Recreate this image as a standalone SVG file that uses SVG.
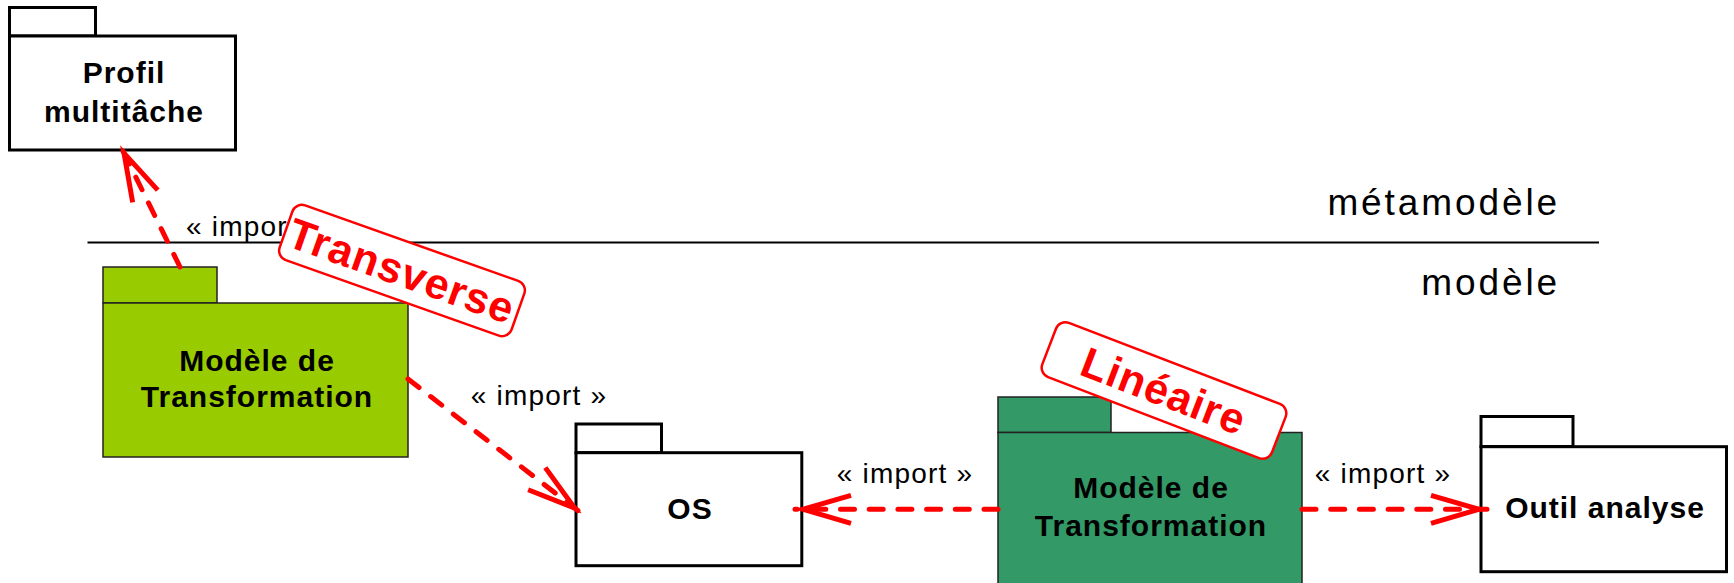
<svg xmlns="http://www.w3.org/2000/svg" width="1734" height="583" viewBox="0 0 1734 583">
<style>
.pkg{fill:#fff;stroke:#000;stroke-width:3}
.g1{fill:#99CC00;stroke:#222;stroke-width:1.5}
.g2{fill:#339966;stroke:#222;stroke-width:1.5}
.name{font-family:"Liberation Sans",Arial,sans-serif;font-weight:bold;font-size:30px;letter-spacing:1px;fill:#000;text-anchor:middle}
.lbl{font-family:"Liberation Sans",Arial,sans-serif;font-size:28px;letter-spacing:1.2px;fill:#000}
.layer{font-family:"Liberation Sans",Arial,sans-serif;font-size:37px;letter-spacing:2.9px;fill:#000;text-anchor:end}
.dep{fill:none;stroke:#FF0000;stroke-width:5;stroke-dasharray:14 14.7;stroke-linecap:round}
.stamp rect{fill:#fff;stroke:#FF0000;stroke-width:2.5}
.stamp text{font-family:"Liberation Sans",Arial,sans-serif;font-weight:bold;font-size:43px;letter-spacing:1px;fill:#FF0000;text-anchor:middle}
</style>
<defs>
<marker id="open" markerUnits="userSpaceOnUse" markerWidth="80" markerHeight="60" viewBox="-60 -30 80 60" refX="8" refY="0" orient="auto" overflow="visible">
<path d="M-48 -14 L0 0 L-48 14" fill="none" stroke="#FF0000" stroke-width="5" stroke-linejoin="miter"/>
</marker>
</defs>
<rect width="1734" height="583" fill="#fff"/>

<g id="separator">
<line x1="87.5" y1="242.5" x2="1599" y2="242.5" stroke="#000" stroke-width="2"/>
<text class="layer" x="1560" y="215">métamodèle</text>
<text class="layer" x="1560" y="295">modèle</text>
</g>

<g id="profil">
<rect class="pkg" x="9.5" y="7.5" width="86" height="28.5"/>
<rect class="pkg" x="9.5" y="36" width="226" height="114"/>
<text class="name" x="124" y="83">Profil</text>
<text class="name" x="124" y="122">multitâche</text>
</g>

<g id="modele-transverse">
<rect class="g1" x="103" y="267" width="114" height="36"/>
<rect class="g1" x="103" y="303" width="305" height="154"/>
<text class="name" x="257" y="371">Modèle de</text>
<text class="name" x="257" y="407">Transformation</text>
</g>

<g id="os">
<rect class="pkg" x="576" y="424" width="85.5" height="28.7"/>
<rect class="pkg" x="576" y="452.7" width="225.8" height="113"/>
<text class="name" x="690" y="519">OS</text>
</g>

<g id="modele-lineaire">
<rect class="g2" x="998" y="397" width="113" height="35.5"/>
<rect class="g2" x="998" y="432.5" width="304" height="170"/>
<text class="name" x="1151" y="498">Modèle de</text>
<text class="name" x="1151" y="536">Transformation</text>
</g>

<g id="outil">
<rect class="pkg" x="1481" y="416.5" width="92" height="30"/>
<rect class="pkg" x="1481" y="446.7" width="245.5" height="125"/>
<text class="name" x="1605" y="518">Outil analyse</text>
</g>

<g id="connectors">
<path class="dep" d="M180 267 L120.5 146" marker-end="url(#open)"/>
<text class="lbl" x="186" y="236">« import »</text>
<path class="dep" d="M408 379 L581 513" marker-end="url(#open)"/>
<text class="lbl" x="539" y="405" text-anchor="middle">« import »</text>
<path class="dep" d="M998 509.3 L795 509.3" marker-end="url(#open)"/>
<text class="lbl" x="905" y="483" text-anchor="middle">« import »</text>
<path class="dep" d="M1302 509.3 L1487 509.3" marker-end="url(#open)"/>
<text class="lbl" x="1383" y="483" text-anchor="middle">« import »</text>
</g>

<g id="stamp-transverse" class="stamp" transform="translate(402 270.5) rotate(19.5)">
<rect x="-123" y="-29" width="246" height="58" rx="10"/>
<text x="0" y="15.5">Transverse</text>
</g>

<g id="stamp-lineaire" class="stamp" transform="translate(1164 390.5) rotate(21)">
<rect x="-123" y="-29" width="246" height="58" rx="10"/>
<text x="0" y="15.5">Linéaire</text>
</g>
</svg>
